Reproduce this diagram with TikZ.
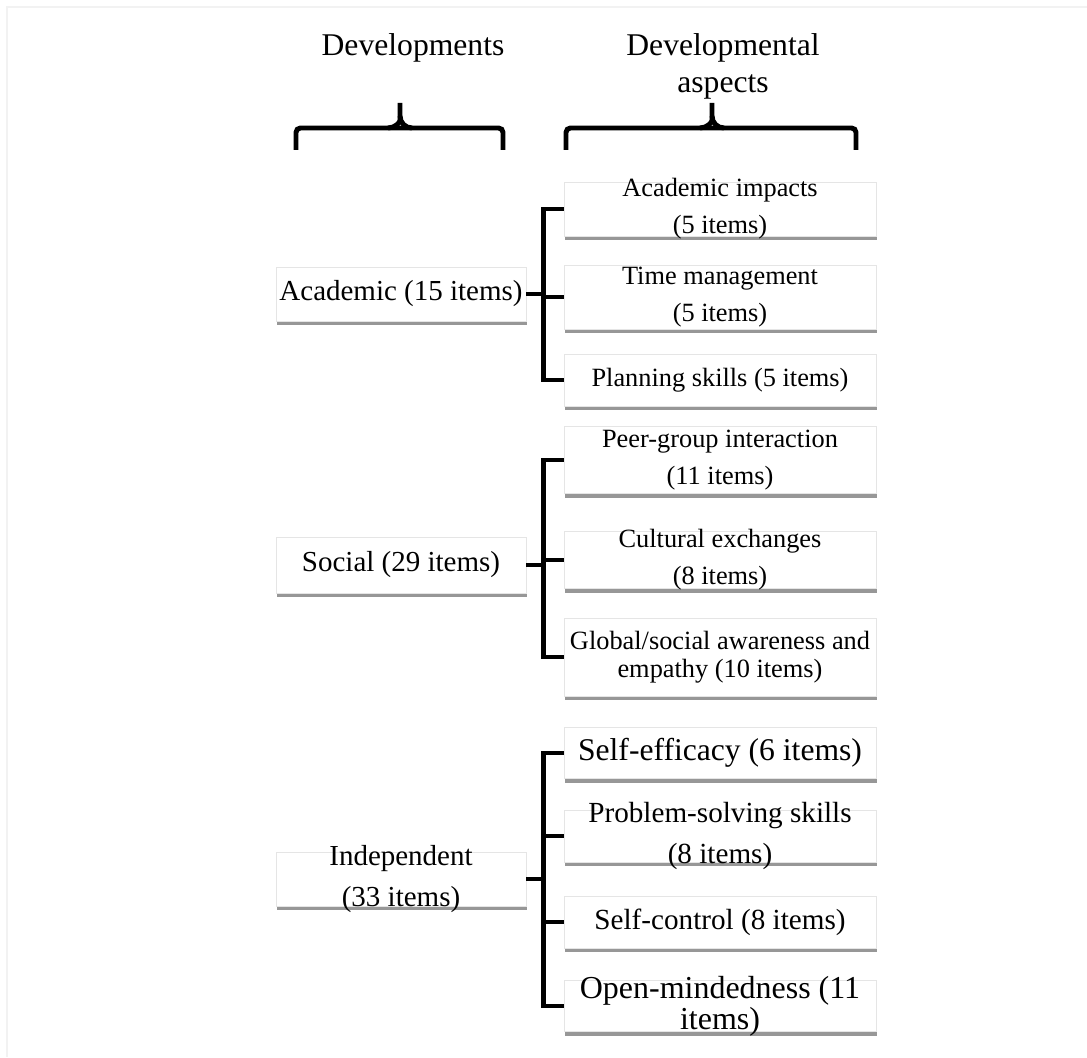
\documentclass[tikz,border=0pt]{standalone}
\usepackage{fontspec}
\setmainfont{Liberation Serif}
\usetikzlibrary{shadows}
\tikzset{
  devbox/.style={
    draw=black!10,
    fill=white,
    minimum width=5cm,
    inner sep=0pt,
    drop shadow={shadow xshift=0.6pt, shadow yshift=-2.3pt, fill=black!45, opacity=0.9}
  },
  aspbox/.style={devbox, minimum width=6.24cm},
  headtext/.style={align=center, font=\fontsize{18}{21}\selectfont},
  devtext/.style={align=center, font=\fontsize{16.5}{22.8}\selectfont},
  asptext/.style={align=center, font=\fontsize{15}{21}\selectfont},
  link/.style={line width=2.8pt},
  bracket/.style={line width=2.8pt, rounded corners=2.5pt}
}

\begin{document}
\begin{tikzpicture}[x=0.02cm, y=-0.02cm]
  \useasboundingbox (0,0) rectangle (1087,1057);
  \draw[black!5, line width=0.8pt] (7,1057) |- (1087,7);
  % headings and braces
  \node[headtext] (devs) at (413,48) {Developments};
  \node[headtext] (aspects) at (723,66) {Developmental\\aspects};
  \draw[bracket] (296,150) |- (400,128) -| (503,150);
  \draw[bracket] (388,128) to[out=0,in=-90] (400,116) -- (400,103);
  \draw[bracket] (412,128) to[out=180,in=-90] (400,116);
  \draw[bracket] (566,150) |- (712,128) -| (856,150);
  \draw[bracket] (700,128) to[out=0,in=-90] (712,116) -- (712,103);
  \draw[bracket] (724,128) to[out=180,in=-90] (712,116);
  % developments
  \node[devbox, minimum height=1.08cm] (acad) at (401,294) {};
  \node[devtext] (acadtxt) at (acad) {Academic (15 items)};
  \node[devbox, minimum height=1.12cm] (social) at (401,565) {};
  \node[devtext] (socialtxt) at (social) {Social (29 items)};
  \node[devbox, minimum height=1.08cm] (indep) at (401,879) {};
  \node[devtext] (indeptxt) at (indep) {Independent\\(33 items)};
  % developmental aspects
  \node[aspbox, minimum height=1.08cm] (impact) at (720,209) {};
  \node[asptext] (impacttxt) at (impact) {Academic impacts\\(5 items)};
  \node[aspbox, minimum height=1.28cm] (time) at (720,297) {};
  \node[asptext] (timetxt) at (time) {Time management\\(5 items)};
  \node[aspbox, minimum height=1.04cm] (plan) at (720,380) {};
  \node[asptext] (plantxt) at (plan) {Planning skills (5 items)};
  \node[aspbox, minimum height=1.34cm] (peer) at (720,460) {};
  \node[asptext] (peertxt) at (peer) {Peer-group interaction\\(11 items)};
  \node[aspbox, minimum height=1.14cm] (culture) at (720,560) {};
  \node[asptext] (culturetxt) at (culture) {Cultural exchanges\\(8 items)};
  \node[aspbox, minimum height=1.56cm] (global) at (720,657) {};
  \node[asptext, font=\fontsize{15}{16}\selectfont] (globaltxt) at (global)
    {Global/social awareness and\\empathy (10 items)};
  \node[aspbox, minimum height=1.02cm] (efficacy) at (720,753) {};
  \node[asptext, font=\fontsize{18}{21}\selectfont] (efficacytxt) at (efficacy) {Self-efficacy (6 items)};
  \node[aspbox, minimum height=1.04cm] (problem) at (720,836) {};
  \node[asptext, font=\fontsize{16.6}{22.8}\selectfont] (problemtxt) at (problem)
    {Problem-solving skills\\(8 items)};
  \node[aspbox, minimum height=1.04cm] (control) at (720,922) {};
  \node[asptext, font=\fontsize{16.6}{21}\selectfont] (controltxt) at (control) {Self-control (8 items)};
  \node[aspbox, minimum height=1.02cm] (open) at (720,1006) {};
  \node[asptext, font=\fontsize{18.2}{17.6}\selectfont] (opentxt) at (open)
    {Open-mindedness (11\\items)};
  % connectors
  \foreach \b in {impact,time,plan}
    \draw[link] (acad.east) -- ++(17,0) |- (\b.west);
  \foreach \b in {peer,culture,global}
    \draw[link] (social.east) -- ++(17,0) |- (\b.west);
  \foreach \b in {efficacy,problem,control,open}
    \draw[link] (indep.east) -- ++(17,0) |- (\b.west);
\end{tikzpicture}
\end{document}
